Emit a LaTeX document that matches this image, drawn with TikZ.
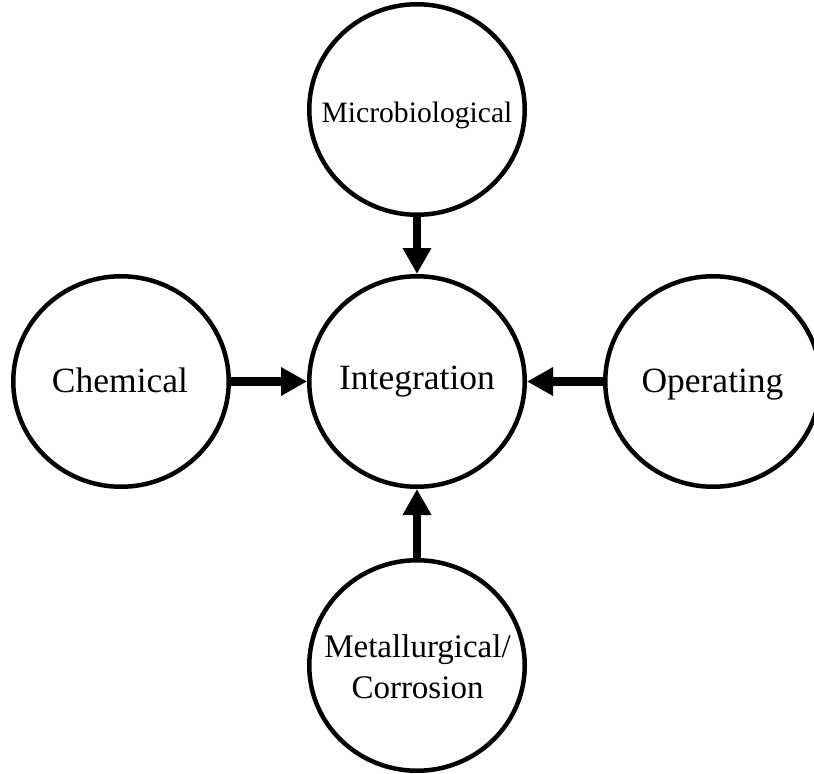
\documentclass[tikz,border=0pt]{standalone}
\usepackage{fontspec}
\setmainfont{Liberation Serif}
\usetikzlibrary{arrows.meta,shapes.geometric}
\begin{document}
\begin{tikzpicture}[x=1bp,y=-1bp,
  ring/.style={draw, ellipse, line width=4.5bp, minimum width=215.5bp,
               minimum height=210.5bp, inner sep=0pt},
  lbl/.style={anchor=base, inner sep=0pt, align=center,
              font=\fontsize{35.5bp}{42bp}\selectfont},
  flow/.style={line width=8.5bp, -{Triangle[length=26bp,width=27bp]}}]
\useasboundingbox (0,0) rectangle (814,774);

% the five circles
\node[ring] (micro) at (417,109.5) {};
\node[ring] (integ) at (417,381.5) {};
\node[ring] (chem)  at (121,381.5) {};
\node[ring] (oper)  at (713,381.5) {};
\node[ring] (metal) at (417,665.5) {};

% their labels (base = baseline of the last line)
\node[lbl, font=\fontsize{29.6bp}{36bp}\selectfont] (tmicro) at (417,122) {Microbiological};
\node[lbl] (tinteg) at (417,389.5) {Integration};
\node[lbl] (tchem)  at (120,392) {Chemical};
\node[lbl] (toper)  at (712.5,392) {Operating};
\node[lbl, font=\fontsize{33bp}{40.5bp}\selectfont] (tmetal) at (417.5,698) {Metallurgical/\\Corrosion};

% influences pointing into the centre
\draw[flow] (micro) -- (integ);
\draw[flow] (chem)  -- (integ);
\draw[flow] (oper)  -- (integ);
\draw[flow] (metal) -- (integ);
\end{tikzpicture}
\end{document}
